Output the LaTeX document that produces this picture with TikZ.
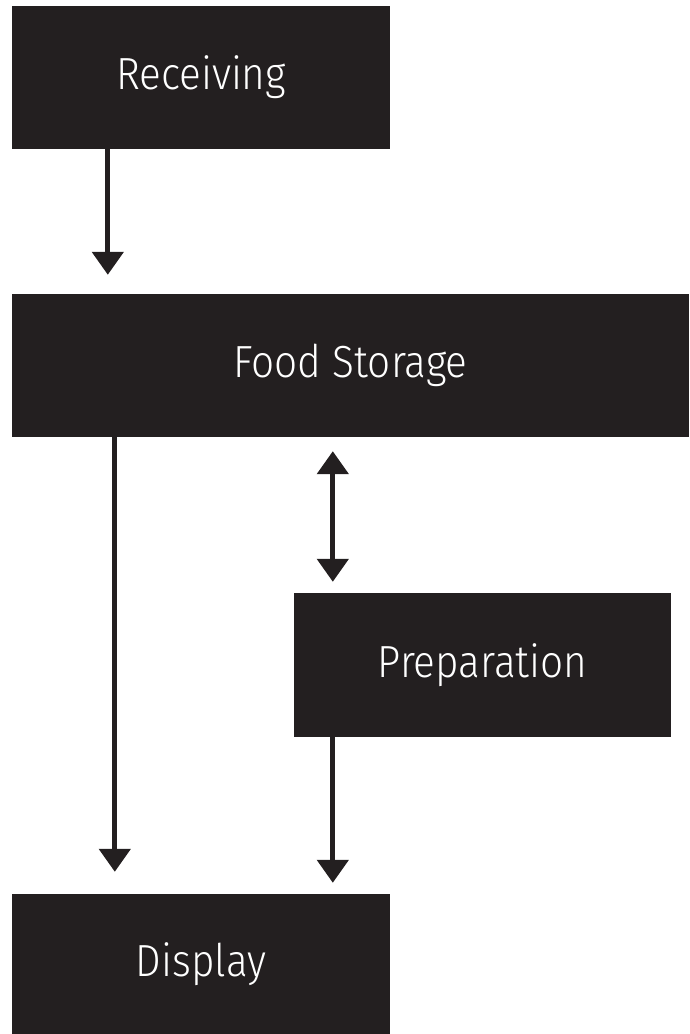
\documentclass[tikz,border=0pt]{standalone}
\usepackage{fontspec}
\setmainfont{Fira Sans Light}[FakeStretch=0.9]
\usetikzlibrary{arrows.meta}
\definecolor{inkblack}{HTML}{231F20}
\begin{document}
\begin{tikzpicture}[
    x=1pt, y=1pt,
    stage box/.style={fill=inkblack, text=white, inner sep=0pt, minimum height=143pt,
        font=\fontsize{45}{54}\selectfont},
    flow arrow/.style={draw=inkblack, line width=5pt, -{Triangle[width=31pt,length=23pt]}},
    two way arrow/.style={draw=inkblack, line width=5pt, {Triangle[width=31pt,length=23pt]}-{Triangle[width=31pt,length=23pt]}},
    ]
\useasboundingbox (0,0) rectangle (689,1034);
\node[stage box, minimum width=378pt] (receiving) at (201,956.5) {Receiving};
\node[stage box, minimum width=677pt] (storage) at (350.5,668.5) {Food Storage};
\node[stage box, minimum width=377pt, minimum height=144pt] (preparation) at (482.5,369) {Preparation};
\node[stage box, minimum width=378pt, minimum height=140pt] (display) at (201,70) {Display};
\draw[flow arrow, shorten >=19pt] ([xshift=96pt]receiving.south west) -- ([xshift=96pt]receiving.south west |- storage.north);
\draw[flow arrow, shorten >=22pt] ([xshift=103pt]storage.south west) -- ([xshift=103pt]storage.south west |- display.north);
\draw[two way arrow, shorten <=14pt, shorten >=11pt] ([xshift=39pt]preparation.north west |- storage.south) -- ([xshift=39pt]preparation.north west);
\draw[flow arrow, shorten >=11pt] ([xshift=39pt]preparation.south west) -- ([xshift=39pt]preparation.south west |- display.north);
\end{tikzpicture}
\end{document}
